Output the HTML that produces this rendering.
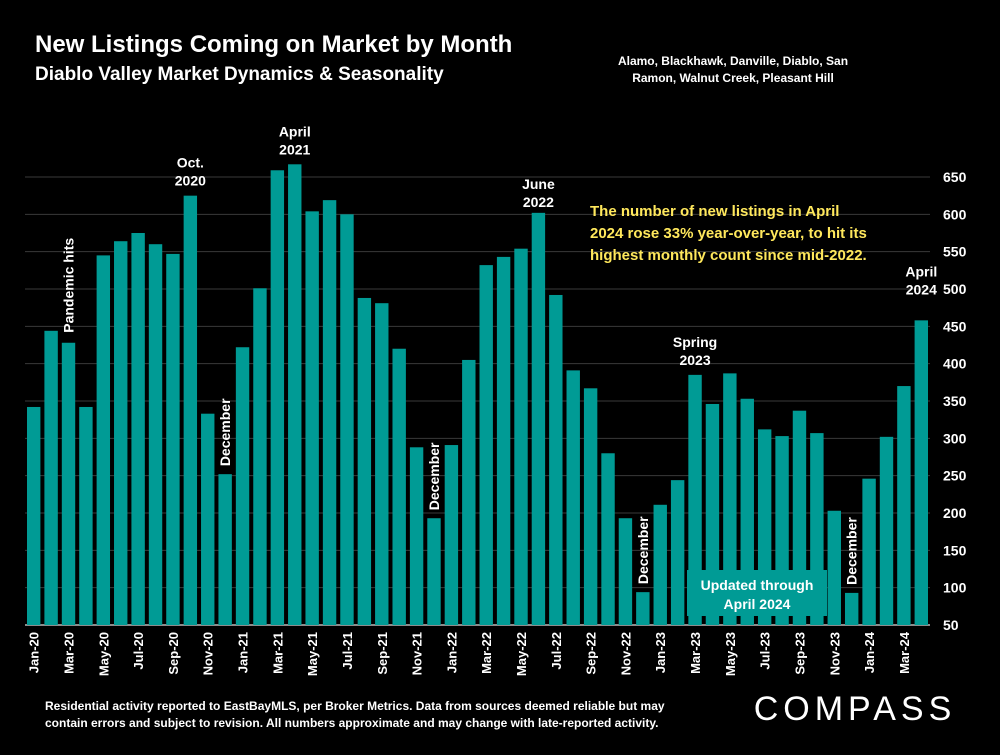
<!DOCTYPE html>
<html><head><meta charset="utf-8"><style>
body{margin:0;background:#000;width:1000px;height:750px;overflow:hidden;font-family:"Liberation Sans",sans-serif;color:#fff}
svg text{font-family:"Liberation Sans",sans-serif}
</style></head><body>
<svg id="c" width="1000" height="750">
<text x="35" y="52" font-size="24" font-weight="bold" fill="#fff">New Listings Coming on Market by Month</text>
<text x="35" y="80" font-size="19" font-weight="bold" fill="#fff">Diablo Valley Market Dynamics &amp; Seasonality</text>
<text x="733" y="65" font-size="12" font-weight="bold" fill="#fff" text-anchor="middle"><tspan x="733">Alamo, Blackhawk, Danville, Diablo, San</tspan><tspan x="733" dy="17">Ramon, Walnut Creek, Pleasant Hill</tspan></text>
<g id="grid"></g><g id="bars"></g><g id="xl"></g><g id="yl"></g>
<text font-size="15" font-weight="bold" fill="#ffe85c"><tspan x="590" y="216">The  number  of  new  listings  in  April</tspan><tspan x="590" y="238">2024  rose 33% year-over-year, to hit its</tspan><tspan x="590" y="260">highest monthly count since mid-2022.</tspan></text>
<rect x="687" y="570" width="140" height="46" fill="#009b95"/>
<text x="757" y="590" font-size="14" font-weight="bold" fill="#fff" text-anchor="middle"><tspan x="757">Updated through</tspan><tspan x="757" dy="19">April 2024</tspan></text>
<text x="45" y="710" font-size="12" font-weight="bold" fill="#fff"><tspan x="45">Residential activity reported to EastBayMLS, per Broker Metrics. Data from sources deemed reliable but may</tspan><tspan x="45" dy="17">contain errors and subject to revision. All numbers approximate and may change with late-reported activity.</tspan></text>
<text x="855" y="720" font-size="34" fill="#fff" text-anchor="middle" letter-spacing="5">COMPASS</text>
<g id="ann"></g>
</svg>
<script>
const categories=["Jan-20","Feb-20","Mar-20","Apr-20","May-20","Jun-20","Jul-20","Aug-20","Sep-20","Oct-20","Nov-20","Dec-20","Jan-21","Feb-21","Mar-21","Apr-21","May-21","Jun-21","Jul-21","Aug-21","Sep-21","Oct-21","Nov-21","Dec-21","Jan-22","Feb-22","Mar-22","Apr-22","May-22","Jun-22","Jul-22","Aug-22","Sep-22","Oct-22","Nov-22","Dec-22","Jan-23","Feb-23","Mar-23","Apr-23","May-23","Jun-23","Jul-23","Aug-23","Sep-23","Oct-23","Nov-23","Dec-23","Jan-24","Feb-24","Mar-24","Apr-24"];
const values=[342,444,428,342,545,564,575,560,547,625,333,252,422,501,659,667,604,619,600,488,481,420,288,193,291,405,532,543,554,602,492,391,367,280,193,94,211,244,385,346,387,353,312,303,337,307,203,93,246,302,370,458];
const yTicks=[50,100,150,200,250,300,350,400,450,500,550,600,650];
const NS="http://www.w3.org/2000/svg";
const X0=25,X1=930,Y0=625,Y1=177,vmin=50,vmax=650;
const band=(X1-X0)/categories.length;
const xPos=i=>X0+band*i;
const yPos=v=>Y0-(v-vmin)/(vmax-vmin)*(Y0-Y1);
function mk(t,a,p){const e=document.createElementNS(NS,t);for(const k in a)e.setAttribute(k,a[k]);document.getElementById(p).appendChild(e);return e;}
yTicks.forEach(t=>{
 if(t>vmin){const l=mk("line",{x1:X0,x2:X1,y1:yPos(t),y2:yPos(t),stroke:"#3a3a3a","stroke-width":1},"grid");
 
 }
 const tx=mk("text",{x:943,y:yPos(t)+5,"font-size":14,"font-weight":"bold",fill:"#fff"},"yl");tx.textContent=t;
 
 
});
values.forEach((v,i)=>{
 const r=mk("rect",{x:xPos(i)+2,y:yPos(v),width:band-4,height:Y0-yPos(v),fill:"#009b95"},"bars");
 
 
 if(i%2===0){const cx=xPos(i)+band/2+5;const t=mk("text",{x:cx,y:632,"font-size":13,"font-weight":"bold",fill:"#fff","text-anchor":"end",transform:`rotate(-90 ${cx} 632)`},"xl");t.textContent=categories[i];
 
 }
});
const ax=mk("line",{x1:X0,x2:X1,y1:Y0,y2:Y0,stroke:"#bbb","stroke-width":1.5},"grid");


function hl(i,lines,dy){const cx=xPos(i)+band/2;const t=mk("text",{x:cx,y:yPos(values[i])-dy,"font-size":14,"font-weight":"bold",fill:"#fff","text-anchor":"middle"},"ann");
 lines.forEach((s,k)=>{const ts=document.createElementNS(NS,"tspan");ts.setAttribute("x",cx);ts.setAttribute("dy",k?18:0);ts.textContent=s;t.appendChild(ts);});
 
 }
hl(9,["Oct.","2020"],28);hl(15,["April","2021"],28);hl(29,["June","2022"],24);hl(38,["Spring","2023"],28);hl(51,["April","2024"],44);
function vl(i,s,yy){const cx=xPos(i)+band/2+5;const t=mk("text",{x:cx,y:yy,"font-size":14,"font-weight":"bold",fill:"#fff","text-anchor":"start",transform:`rotate(-90 ${cx} ${yy})`},"ann");t.textContent=s;
 
 }
vl(2,"Pandemic hits",yPos(values[2])-10);vl(11,"December",yPos(values[11])-8);vl(23,"December",yPos(values[23])-8);vl(35,"December",yPos(values[35])-8);vl(47,"December",yPos(values[47])-8);
</script>
</body></html>
